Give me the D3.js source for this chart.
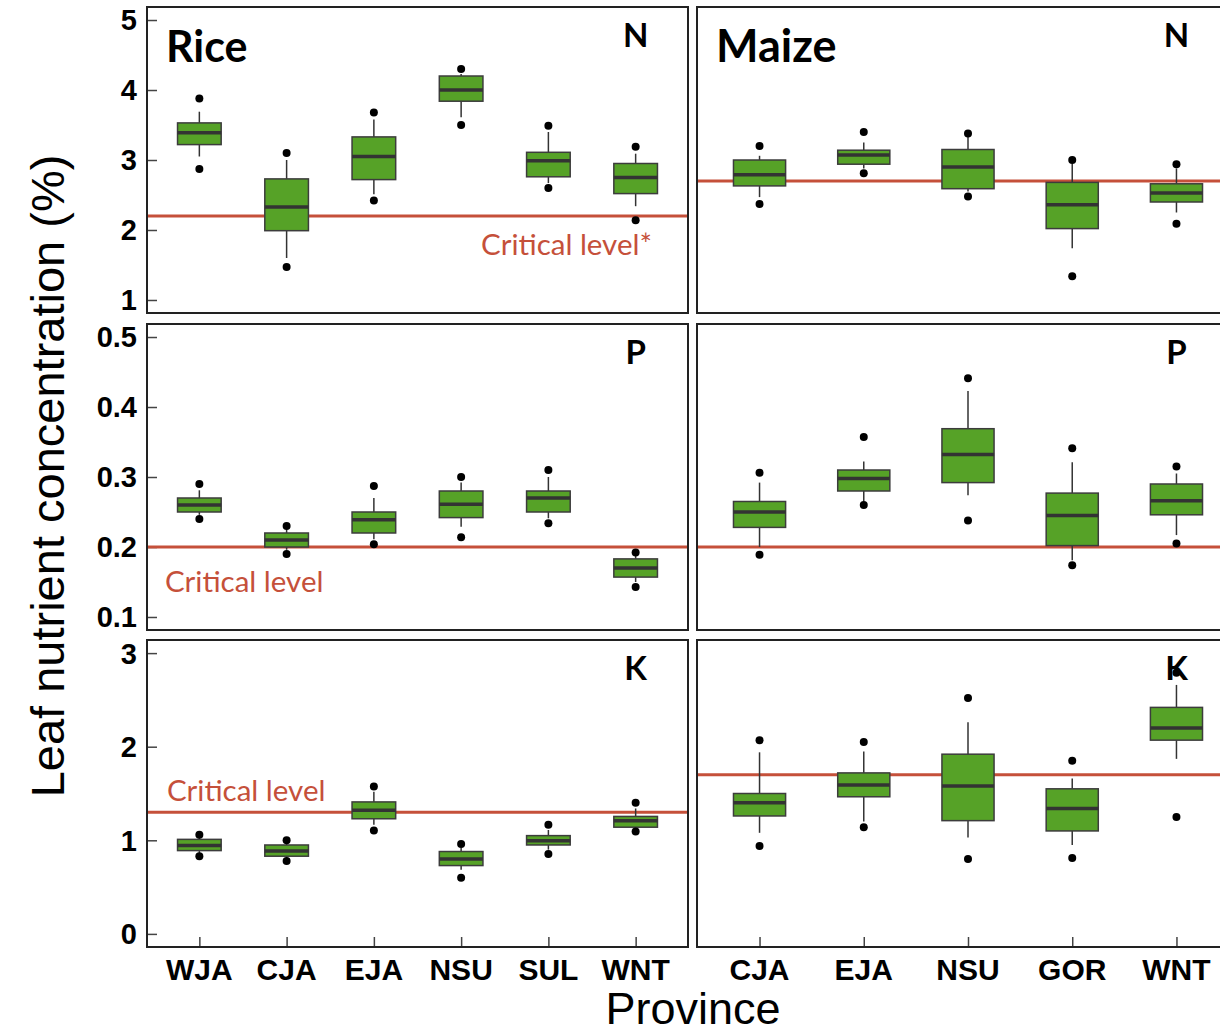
<!DOCTYPE html>
<html>
<head>
  <meta charset="utf-8">
  <script src="https://cdnjs.cloudflare.com/ajax/libs/d3/7.8.5/d3.min.js"></script>
  <title>Leaf nutrient concentration</title>
  <style>
    body { margin: 0; background: #fff; }
  </style>
</head>
<body>
<script>
// each box: [low outlier, whisker low, q1, median, q3, whisker high, high outlier]
var riceProvinces = ["WJA", "CJA", "EJA", "NSU", "SUL", "WNT"];
var maizeProvinces = ["CJA", "EJA", "NSU", "GOR", "WNT"];

var riceN = [
  [2.87, 3.05, 3.22, 3.39, 3.53, 3.69, 3.88],
  [1.47, 1.60, 1.99, 2.33, 2.73, 3.00, 3.10],
  [2.42, 2.51, 2.72, 3.05, 3.33, 3.58, 3.68],
  [3.50, 3.61, 3.84, 4.00, 4.20, 4.23, 4.30],
  [2.60, 2.67, 2.76, 2.99, 3.11, 3.40, 3.49],
  [2.14, 2.34, 2.52, 2.75, 2.95, 3.09, 3.19]
];
var maizeN = [
  [2.37, 2.47, 2.63, 2.79, 3.00, 3.06, 3.20],
  [2.81, 2.88, 2.94, 3.07, 3.14, 3.25, 3.40],
  [2.48, 2.55, 2.59, 2.90, 3.15, 3.33, 3.38],
  [1.34, 1.74, 2.02, 2.36, 2.68, 2.95, 3.00],
  [2.09, 2.25, 2.40, 2.53, 2.66, 2.88, 2.94]
];
var riceP = [
  [0.240, 0.246, 0.250, 0.260, 0.270, 0.281, 0.290],
  [0.190, 0.196, 0.200, 0.210, 0.220, 0.225, 0.230],
  [0.204, 0.211, 0.220, 0.239, 0.250, 0.270, 0.287],
  [0.214, 0.229, 0.242, 0.261, 0.280, 0.292, 0.300],
  [0.234, 0.241, 0.250, 0.270, 0.280, 0.300, 0.310],
  [0.143, 0.150, 0.157, 0.170, 0.183, 0.189, 0.192]
];
var maizeP = [
  [0.189, 0.200, 0.228, 0.250, 0.265, 0.292, 0.306],
  [0.260, 0.265, 0.280, 0.298, 0.310, 0.322, 0.357],
  [0.238, 0.274, 0.292, 0.332, 0.369, 0.423, 0.441],
  [0.174, 0.181, 0.202, 0.245, 0.277, 0.321, 0.341],
  [0.205, 0.217, 0.246, 0.266, 0.290, 0.305, 0.315]
];
var riceK = [
  [0.83, 0.86, 0.89, 0.945, 1.01, 1.04, 1.06],
  [0.78, 0.81, 0.83, 0.885, 0.95, 0.98, 1.00],
  [1.105, 1.165, 1.23, 1.32, 1.41, 1.52, 1.575],
  [0.60, 0.685, 0.73, 0.80, 0.88, 0.92, 0.96],
  [0.853, 0.90, 0.95, 0.995, 1.05, 1.11, 1.165],
  [1.095, 1.12, 1.14, 1.21, 1.255, 1.34, 1.40]
];
var maizeK = [
  [0.94, 1.08, 1.26, 1.40, 1.50, 1.94, 2.07],
  [1.14, 1.20, 1.465, 1.59, 1.72, 1.95, 2.05],
  [0.80, 1.03, 1.21, 1.58, 1.92, 2.26, 2.52],
  [0.81, 0.95, 1.10, 1.34, 1.55, 1.66, 1.85],
  [1.25, 1.87, 2.07, 2.20, 2.42, 2.66, 2.79]
];

var nutrients = ["N", "P", "K"];
var yDomains = [[0.814, 5.186], [0.0814, 0.5186], [-0.14, 3.14]];
var yTicks = [[1, 2, 3, 4, 5], [0.1, 0.2, 0.3, 0.4, 0.5], [0, 1, 2, 3]];
var riceCritical = [2.2, 0.2, 1.3];
var maizeCritical = [2.7, 0.2, 1.7];

var W = 1220, H = 1031;
var rows = [[7, 313], [324, 630], [640, 947]];
var cols = [[147, 688], [697, 1239]];
var green = "#56a227", red = "#c5503a", dark = "#333";
var labelFont = "Lato, 'Open Sans', sans-serif";

var svg = d3.select("body").append("svg")
  .attr("width", W).attr("height", H)
  .style("font-family", "'Liberation Sans', Arial, sans-serif");

var crops = [
  { name: "Rice", provinces: riceProvinces, data: [riceN, riceP, riceK], crit: riceCritical },
  { name: "Maize", provinces: maizeProvinces, data: [maizeN, maizeP, maizeK], crit: maizeCritical }
];

crops.forEach(function(crop, ci) {
  var x = d3.scalePoint().domain(crop.provinces).range(cols[ci]).padding(0.6);
  var bw = x.step() * 0.5;

  nutrients.forEach(function(nut, ri) {
    var y = d3.scaleLinear().domain(yDomains[ri]).range([rows[ri][1], rows[ri][0]]);
    var g = svg.append("g");

    // inward y ticks, labels only on the rice column
    if (ci === 0) {
      var ya = g.append("g").attr("transform", "translate(" + cols[ci][0] + ",0)")
        .call(d3.axisRight(y).tickValues(yTicks[ri]).tickSize(10).tickFormat(""));
      ya.select(".domain").remove();
      ya.selectAll("line").attr("stroke", "#444").attr("stroke-width", 1.5);
      g.selectAll(".ylab").data(yTicks[ri]).enter().append("text")
        .attr("x", cols[ci][0] - 10).attr("y", function(d) { return y(d); })
        .attr("dy", "0.36em").attr("text-anchor", "end")
        .attr("font-size", 29).attr("font-weight", "bold")
        .text(function(d) { return ri === 1 ? d3.format(".1f")(d) : d; });
    }

    // x ticks on bottom row
    if (ri === 2) {
      var xa = g.append("g").attr("transform", "translate(0," + rows[ri][1] + ")")
        .call(d3.axisTop(x).tickSize(10).tickFormat(""));
      xa.select(".domain").remove();
      xa.selectAll("line").attr("stroke", "#444").attr("stroke-width", 1.5);
      g.selectAll(".xlab").data(crop.provinces).enter().append("text")
        .attr("x", function(d) { return x(d); }).attr("y", 980)
        .attr("text-anchor", "middle").attr("font-size", 30).attr("font-weight", "bold")
        .text(function(d) { return d; });
    }

    // critical level line
    g.append("line")
      .attr("x1", cols[ci][0]).attr("x2", cols[ci][1])
      .attr("y1", y(crop.crit[ri])).attr("y2", y(crop.crit[ri]))
      .attr("stroke", red).attr("stroke-width", 3);

    var boxes = g.selectAll(".box").data(crop.data[ri]).enter().append("g")
      .attr("transform", function(d, i) { return "translate(" + x(crop.provinces[i]) + ",0)"; });

    boxes.append("line").attr("x1", 0).attr("x2", 0)
      .attr("y1", function(d) { return y(d[5]); }).attr("y2", function(d) { return y(d[4]); })
      .attr("stroke", dark).attr("stroke-width", 1.5);
    boxes.append("line").attr("x1", 0).attr("x2", 0)
      .attr("y1", function(d) { return y(d[2]); }).attr("y2", function(d) { return y(d[1]); })
      .attr("stroke", dark).attr("stroke-width", 1.5);
    boxes.append("rect")
      .attr("x", -bw / 2).attr("width", bw)
      .attr("y", function(d) { return y(d[4]); })
      .attr("height", function(d) { return y(d[2]) - y(d[4]); })
      .attr("fill", green).attr("stroke", "#3c3c3c").attr("stroke-width", 1.5);
    boxes.append("line").attr("x1", -bw / 2).attr("x2", bw / 2)
      .attr("y1", function(d) { return y(d[3]); }).attr("y2", function(d) { return y(d[3]); })
      .attr("stroke", dark).attr("stroke-width", 3.5);
    boxes.selectAll("circle").data(function(d) { return [d[0], d[6]]; }).enter().append("circle")
      .attr("cx", 0).attr("cy", function(v) { return y(v); }).attr("r", 4).attr("fill", "#000");

    // panel frame
    g.append("rect")
      .attr("x", cols[ci][0]).attr("y", rows[ri][0])
      .attr("width", cols[ci][1] - cols[ci][0]).attr("height", rows[ri][1] - rows[ri][0])
      .attr("fill", "none").attr("stroke", "#222").attr("stroke-width", 2);

    // nutrient letter
    g.append("text")
      .attr("x", x(crop.provinces[crop.provinces.length - 1])).attr("y", rows[ri][0] + 40)
      .attr("text-anchor", "middle").attr("font-size", 33).attr("font-weight", "bold")
      .style("font-family", labelFont)
      .text(nut);
  });

  svg.append("text")
    .attr("x", cols[ci][0] + 19).attr("y", 62)
    .attr("font-size", ci === 0 ? 43 : 45).attr("font-weight", "bold")
    .style("font-family", labelFont)
    .text(crop.name);
});

// critical level labels
svg.append("text").attr("x", 652).attr("y", 255).attr("text-anchor", "end")
  .attr("font-size", 29.5).attr("fill", red).style("font-family", labelFont).text("Critical level*");
svg.append("text").attr("x", 165).attr("y", 592)
  .attr("font-size", 29.5).attr("fill", red).style("font-family", labelFont).text("Critical level");
svg.append("text").attr("x", 167).attr("y", 801)
  .attr("font-size", 29.5).attr("fill", red).style("font-family", labelFont).text("Critical level");

// axis titles
svg.append("text")
  .attr("transform", "translate(64,476) rotate(-90)")
  .attr("text-anchor", "middle").attr("font-size", 47)
  .text("Leaf nutrient concentration (%)");
svg.append("text")
  .attr("x", 693).attr("y", 1024).attr("text-anchor", "middle").attr("font-size", 45)
  .text("Province");
</script>
</body>
</html>
